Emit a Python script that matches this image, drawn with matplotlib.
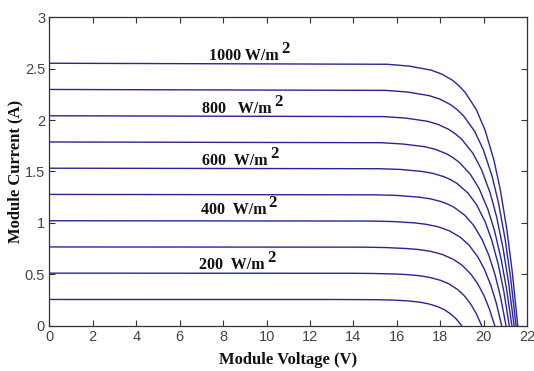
import matplotlib
matplotlib.use("Agg")
import matplotlib.pyplot as plt

# I-V curves, one per irradiance level (100 ... 1000 W/m^2)
irradiance = [100, 200, 300, 400, 500, 600, 700, 800, 900, 1000]

v_100 = [0, 12.98, 13.98, 14.98, 15.48, 15.98, 16.28, 16.58, 17.08, 17.48, 17.88, 18.18, 18.48, 18.73, 18.98]
i_100 = [0.255, 0.255, 0.254, 0.253, 0.251, 0.248, 0.244, 0.240, 0.228, 0.211, 0.185, 0.156, 0.113, 0.065, 0]

v_200 = [0, 13.9, 14.9, 15.9, 16.4, 16.9, 17.2, 17.5, 18.0, 18.4, 18.8, 19.1, 19.4, 19.65, 19.9]
i_200 = [0.511, 0.510, 0.508, 0.503, 0.498, 0.489, 0.481, 0.470, 0.442, 0.406, 0.351, 0.291, 0.209, 0.118, 0]

v_300 = [0, 14.5, 15.5, 16.5, 17.0, 17.5, 17.8, 18.1, 18.6, 19.0, 19.4, 19.7, 20.0, 20.25, 20.5]
i_300 = [0.766, 0.764, 0.760, 0.750, 0.741, 0.725, 0.710, 0.692, 0.645, 0.588, 0.502, 0.414, 0.295, 0.165, 0]

v_400 = [0, 14.82, 15.82, 16.82, 17.32, 17.82, 18.12, 18.42, 18.92, 19.32, 19.72, 20.02, 20.32, 20.57, 20.82]
i_400 = [1.021, 1.018, 1.013, 1.000, 0.987, 0.966, 0.946, 0.922, 0.860, 0.783, 0.670, 0.551, 0.393, 0.221, 0]

v_500 = [0, 15.02, 16.02, 17.02, 17.52, 18.02, 18.32, 18.62, 19.12, 19.52, 19.92, 20.22, 20.52, 20.77, 21.02]
i_500 = [1.277, 1.273, 1.267, 1.250, 1.235, 1.208, 1.184, 1.153, 1.075, 0.979, 0.838, 0.690, 0.492, 0.276, 0]

v_600 = [0, 15.17, 16.17, 17.17, 17.67, 18.17, 18.47, 18.77, 19.27, 19.67, 20.07, 20.37, 20.67, 20.92, 21.17]
i_600 = [1.532, 1.527, 1.520, 1.500, 1.481, 1.449, 1.420, 1.383, 1.290, 1.175, 1.005, 0.827, 0.590, 0.331, 0]

v_700 = [0, 15.29, 16.29, 17.29, 17.79, 18.29, 18.59, 18.89, 19.39, 19.79, 20.19, 20.49, 20.79, 21.04, 21.29]
i_700 = [1.787, 1.780, 1.767, 1.741, 1.714, 1.671, 1.633, 1.585, 1.469, 1.330, 1.129, 0.924, 0.652, 0.363, 0]

v_800 = [0, 15.39, 16.39, 17.39, 17.89, 18.39, 18.69, 18.99, 19.49, 19.89, 20.29, 20.59, 20.89, 21.14, 21.39]
i_800 = [2.042, 2.034, 2.020, 1.989, 1.958, 1.909, 1.866, 1.811, 1.679, 1.519, 1.291, 1.056, 0.745, 0.415, 0]

v_900 = [0, 15.48, 16.48, 17.48, 17.98, 18.48, 18.78, 19.08, 19.58, 19.98, 20.38, 20.68, 20.98, 21.23, 21.48]
i_900 = [2.298, 2.289, 2.273, 2.238, 2.204, 2.149, 2.100, 2.038, 1.889, 1.710, 1.452, 1.188, 0.839, 0.466, 0]

v_1000 = [0, 15.56, 16.56, 17.56, 18.06, 18.56, 18.86, 19.16, 19.66, 20.06, 20.46, 20.76, 21.06, 21.31, 21.56]
i_1000 = [2.553, 2.543, 2.525, 2.487, 2.448, 2.387, 2.333, 2.264, 2.099, 1.899, 1.613, 1.320, 0.932, 0.518, 0]

curves = [(v_100, i_100), (v_200, i_200), (v_300, i_300), (v_400, i_400), (v_500, i_500),
          (v_600, i_600), (v_700, i_700), (v_800, i_800), (v_900, i_900), (v_1000, i_1000)]

# labels only on every second curve
label_text = ["1000 W/m", "800   W/m", "600  W/m", "400  W/m", "200  W/m"]
label_v = [7.35, 7.03, 7.03, 6.98, 6.9]
label_i = [2.585, 2.07, 1.563, 1.083, 0.552]

x_ticks = list(range(0, 23, 2))
y_ticks = [0, 0.5, 1, 1.5, 2, 2.5, 3]
y_tick_labels = ["0", "0.5", "1", "1.5", "2", "2.5", "3"]


def main():
    fig = plt.figure(figsize=(5.34, 3.71), dpi=100)
    ax = fig.add_axes([0.0923, 0.1221, 0.8952, 0.8313])

    for v, i in curves:
        ax.plot(v, i, color="#26269a", lw=1.0)

    serif = ["Liberation Serif", "DejaVu Serif"]
    for txt, x, y in zip(label_text, label_v, label_i):
        t = ax.text(x, y, txt, fontsize=11.5, fontweight="bold", family=serif,
                    ha="left", va="baseline", color="#111111")
        # raised "2" of the unit, about the same size as the label
        ax.annotate("2", xy=(1, 0.45), xycoords=t, xytext=(1.5, 0), textcoords="offset points",
                    fontsize=12, fontweight="bold", family=serif, color="#111111",
                    ha="left", va="bottom")

    ax.set_xlim(0, 22)
    ax.set_ylim(0, 3)
    ax.set_xticks(x_ticks)
    ax.set_yticks(y_ticks)
    ax.set_yticklabels(y_tick_labels)
    ax.tick_params(direction="in", length=4, width=0.8, top=True, right=True,
                   labelsize=10.5, labelcolor="#444444", color="#333333", pad=3)
    for lab in ax.get_xticklabels() + ax.get_yticklabels():
        lab.set_family(["Liberation Sans", "DejaVu Sans"])
    for s in ax.spines.values():
        s.set_color("#333333")
        s.set_linewidth(0.9)

    ax.set_xlabel("Module Voltage (V)", fontsize=12, fontweight="bold", family=serif,
                  color="#111111", labelpad=6)
    ax.set_ylabel("Module Current (A)", fontsize=12, fontweight="bold", family=serif,
                  color="#111111", labelpad=1)

    fig.savefig("out.png", dpi=100, facecolor="white")


if __name__ == "__main__":
    main()
